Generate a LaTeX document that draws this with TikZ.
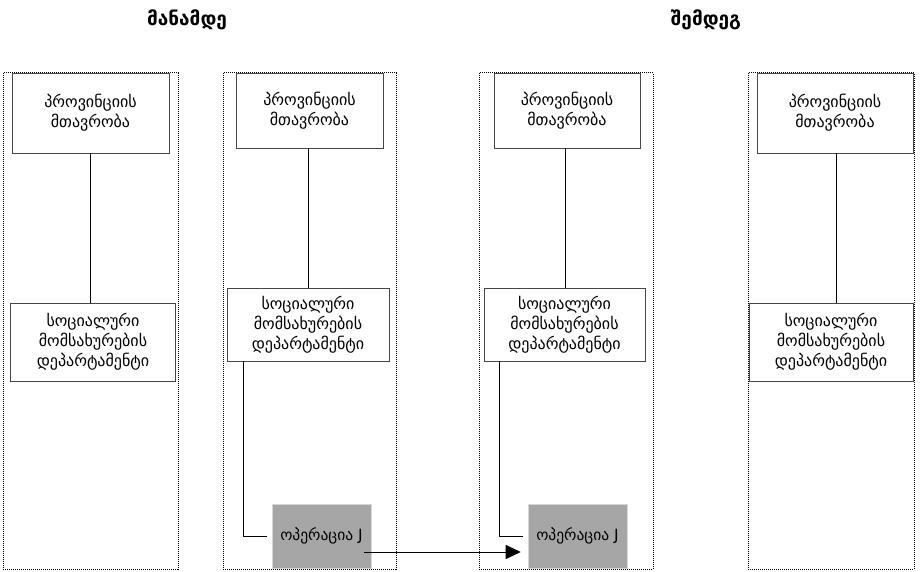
\documentclass[tikz,border=0pt]{standalone}
\usepackage{fontspec}
\setmainfont{DejaVu Sans}
\usetikzlibrary{arrows.meta}
\definecolor{opgray}{RGB}{166,166,166}
\definecolor{opedge}{RGB}{215,215,215}
\definecolor{boxedge}{RGB}{70,70,70}
\begin{document}
\begin{tikzpicture}[x=1pt,y=-1pt,
  column/.style={draw, line width=1pt, dash pattern=on 1pt off 1pt},
  orgbox/.style={draw=boxedge, line width=0.8pt, fill=white, align=center,
    inner sep=0pt, font=\fontsize{16}{20}\selectfont},
  opbox/.style={fill=opgray, draw=opedge, line width=0.6pt, inner sep=0pt,
    font=\fontsize{15.5}{20}\selectfont},
  link/.style={draw, line width=0.8pt},
  title/.style={font=\bfseries\fontsize{19}{20}\selectfont}]
\useasboundingbox (0,0) rectangle (922,572);

% headings
\node[title] (before) at (187,20) {მანამდე};
\node[title] (after) at (706,20) {შემდეგ};

% dotted columns
\draw[column] (3,73) rectangle (178,569);
\draw[column] (223,73) rectangle (396,569);
\draw[column] (479,73) rectangle (653,569);
\draw[column] (748,73) rectangle (914,569);

% column 1
\node[orgbox, minimum width=157, minimum height=80] (p1) at (90.5,113) {პროვინციის\\მთავრობა};
\node[orgbox, minimum width=165, minimum height=78] (s1) at (93,342) {სოციალური\\მომსახურების\\დეპარტამენტი};
\draw[link] (p1.south -| 90,0) -- (s1.north -| 90,0);

% column 2
\node[orgbox, minimum width=147, minimum height=75] (p2) at (309.5,110.5) {პროვინციის\\მთავრობა};
\node[orgbox, minimum width=162, minimum height=73] (s2) at (308,324.5) {სოციალური\\მომსახურების\\დეპარტამენტი};
\node[opbox, minimum width=99, minimum height=64] (g1) at (321.5,536) {ოპერაცია J};
\draw[link] (p2.south -| 308,0) -- (s2.north -| 308,0);
\draw[link, shorten >=5pt] (s2.south -| 243,0) |- (g1.west);

% column 3
\node[orgbox, minimum width=146, minimum height=75] (p3) at (567,110.5) {პროვინციის\\მთავრობა};
\node[orgbox, minimum width=161, minimum height=73] (s3) at (564.5,324.5) {სოციალური\\მომსახურების\\დეპარტამენტი};
\node[opbox, minimum width=99, minimum height=64] (g2) at (577.5,536) {ოპერაცია J};
\draw[link] (p3.south -| 565,0) -- (s3.north -| 565,0);
\draw[link, shorten >=5pt] (s3.south -| 499,0) |- (g2.west);

% column 4
\node[orgbox, minimum width=156, minimum height=80] (p4) at (835,113) {პროვინციის\\მთავრობა};
\node[orgbox, minimum width=164, minimum height=78] (s4) at (831,342) {სოციალური\\მომსახურების\\დეპარტამენტი};
\draw[link] (p4.south -| 836,0) -- (s4.north -| 836,0);

% transfer of the operation
\coordinate (a0) at (364,552);
\draw[link, line width=1pt, -{Triangle[length=15pt,width=14pt]}, shorten >=7pt] (a0) -- (a0 -| g2.west);
\end{tikzpicture}
\end{document}
